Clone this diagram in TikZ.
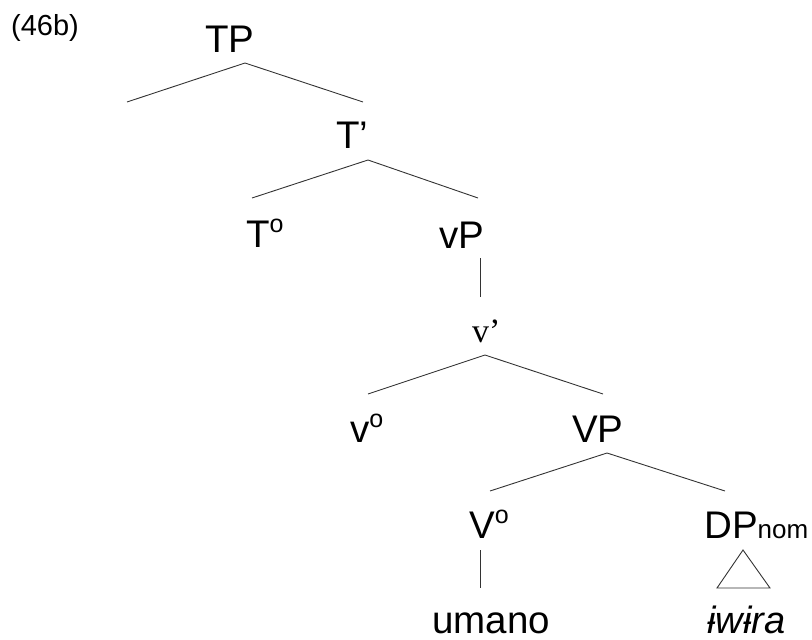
\documentclass[tikz,border=0pt]{standalone}
\usepackage{fontspec}
\setmainfont{Liberation Sans}
\newfontfamily\serifface{Liberation Serif}
\newcommand{\supo}{\raisebox{15pt}{\fontsize{25}{25}\selectfont o}}
\begin{document}
\begin{tikzpicture}[x=1pt,y=-1pt,
  lab/.style={anchor=base west, inner sep=0pt, font=\fontsize{38.5}{44}\selectfont},
  br/.style={draw=black!80, line width=0.9pt}]
\useasboundingbox (0,0) rectangle (812,640);
% labels
\node[lab, font=\fontsize{29}{34}\selectfont] (ex) at (11,35) {(46b)};
\node[lab] (TP) at (205,52) {TP};
\node[lab] (Tbar) at (336,148) {T’};
\node[lab] (T0) at (246,247) {T\supo};
\node[lab] (vP) at (439,248) {vP};
\node[lab, font=\fontsize{34}{38}\selectfont\serifface] (vbar) at (472,342) {v’};
\node[lab] (v0) at (350,442) {v\supo};
\node[lab] (VP) at (572,442) {VP};
\node[lab] (V0) at (469,538) {V\supo};
\node[lab] (DP) at (704,538) {DP{\fontsize{26}{30}\selectfont nom}};
\node[lab] (umano) at (432,633) {umano};
\node[lab, font=\fontsize{38}{44}\selectfont\itshape] (iwira) at (707,633) {ɨwɨra};
% branch points
\coordinate (TPa) at (245,63);
\coordinate (spec) at (127,102);
\coordinate (TPr) at (363,102);
\coordinate (Ta) at (368,160);
\coordinate (Tl) at (252,198);
\coordinate (Tr) at (478,198);
\coordinate (vPa) at (480,258);
\coordinate (vPb) at (480,297);
\coordinate (va) at (485,355);
\coordinate (vl) at (368,394);
\coordinate (vr) at (603,394);
\coordinate (VPa) at (607,453);
\coordinate (VPl) at (490,491);
\coordinate (VPr) at (725,491);
\coordinate (V0a) at (480,550);
\coordinate (V0b) at (480,588);
\coordinate (tri1) at (743,550);
\coordinate (tri2) at (717,588);
\coordinate (tri3) at (770,588);
% branches
\draw[br] (spec) -- (TPa) -- (TPr);
\draw[br] (Tl) -- (Ta) -- (Tr);
\draw[br] (vPa) -- (vPb);
\draw[br] (vl) -- (va) -- (vr);
\draw[br] (VPl) -- (VPa) -- (VPr);
\draw[br] (V0a) -- (V0b);
\draw[br] (tri1) -- (tri2) -- (tri3) -- cycle;
\end{tikzpicture}
\end{document}
